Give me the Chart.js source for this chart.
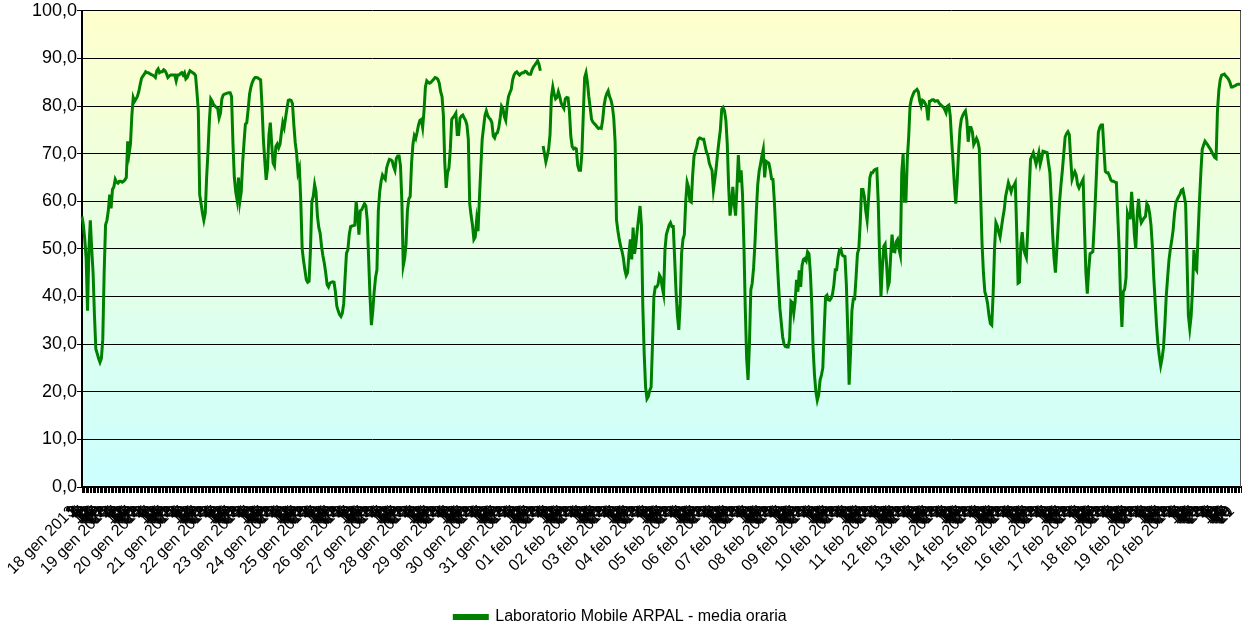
<!DOCTYPE html>
<html>
<head>
<meta charset="utf-8">
<script src="https://cdn.jsdelivr.net/npm/chart.js@4.4.0/dist/chart.umd.min.js"></script>
<style>
  html, body { margin: 0; padding: 0; background: #fff; }
</style>
</head>
<body>
<canvas id="chart" width="1243" height="627"></canvas>
<script>
// day labels shown on the x axis (first hour of each day)
const dayNames = [
  "18 gen 2013", "19 gen 2013", "20 gen 2013", "21 gen 2013", "22 gen 2013",
  "23 gen 2013", "24 gen 2013", "25 gen 2013", "26 gen 2013", "27 gen 2013",
  "28 gen 2013", "29 gen 2013", "30 gen 2013", "31 gen 2013",
  "01 feb 2013", "02 feb 2013", "03 feb 2013", "04 feb 2013", "05 feb 2013",
  "06 feb 2013", "07 feb 2013", "08 feb 2013", "09 feb 2013", "10 feb 2013",
  "11 feb 2013", "12 feb 2013", "13 feb 2013", "14 feb 2013", "15 feb 2013",
  "16 feb 2013", "17 feb 2013", "18 feb 2013", "19 feb 2013", "20 feb 2013"
];

// hourly means, one row per day (gennaio)
const hoursGen = [
  [56.8, 55, 52, 48, 37, 50, 56, 50, 45, 36, 29, 28, 27, 26.2, 27, 31, 45, 55, 56, 58, 61.4, 58.5, 62.5, 63],
  [64.6, 64, 63.8, 64.2, 64.2, 64, 64.2, 64.5, 65, 72.6, 70, 72, 78, 81.8, 81, 81.5, 82, 83, 84.5, 85.8, 86.3, 86.7, 87.2, 87],
  [87, 86.8, 86.6, 86.5, 86.3, 86, 87.4, 87.8, 87, 87.2, 87.2, 87.6, 87.4, 86.8, 86, 86.3, 86.5, 86.5, 86.5, 86.5, 85.3, 86.5, 86.5, 86.8],
  [87, 86.5, 87, 85.7, 86, 86.8, 87.4, 87.2, 87, 86.8, 86.4, 83, 79, 61.4, 59.5, 57.5, 56, 57.5, 65, 70.5, 77, 81.5, 81, 80.3],
  [80, 79.7, 79.5, 77.5, 78.5, 81.5, 82.3, 82.5, 82.6, 82.7, 82.8, 82.8, 82, 72.3, 65, 62, 60.3, 65, 60, 62, 68, 72.3, 76.2, 76.5],
  [79.3, 82.5, 84, 85, 85.6, 86, 86, 85.9, 85.7, 85.5, 80, 73, 68.5, 64.5, 67, 74, 76.5, 72, 68, 67.4, 71.5, 72, 71.2, 72],
  [74.4, 76.5, 75.5, 77.5, 79.5, 81.2, 81.3, 81.2, 80.5, 76, 72.3, 70, 66, 67, 60, 50, 47.5, 45.5, 43.5, 43, 43.2, 50, 60, 61],
  [63.5, 62, 57, 54.5, 53.3, 50.5, 48.5, 47, 45, 42.5, 42, 42.8, 43, 43.1, 43, 41, 38, 37, 36.2, 35.8, 36.5, 38.5, 44, 49.1],
  [49.8, 53, 54.7, 54.8, 54.9, 55, 60, 57, 53, 58, 58.2, 58.9, 59.5, 59, 56, 48, 40, 34, 37, 41, 44, 45.6, 58, 62],
  [64.2, 65.5, 65, 64.6, 67, 68, 68.8, 68.7, 68.5, 67.3, 66.5, 69, 69.5, 69.5, 67.5, 60, 46.5, 48, 51, 58, 60.5, 61, 68, 72],
  [73.8, 73.2, 74.5, 76, 77, 77.2, 75.5, 79, 84, 85.3, 85, 84.8, 85, 85.3, 85.6, 86, 85.9, 85.6, 84.8, 83, 82, 78, 68, 62.8],
  [66, 67, 71, 77.2, 77.6, 78, 78.5, 74, 74, 77.5, 77.9, 78.1, 77.5, 77, 76, 73, 59.5, 57, 55, 52, 52.5, 56, 53.7, 60.5],
  [67, 73, 75.5, 78, 79, 78, 77.5, 77.2, 76.5, 73.7, 73.3, 74.2, 74.4, 75.5, 77.5, 80, 79.5, 77.8, 77, 80, 82, 82.8, 83.5, 85.5],
  [86.5, 87, 87.2, 86.8, 86.5, 86.8, 87, 87, 87.3, 87.2, 86.8, 86.7, 86.7, 87.6, 88.2, 88.6, 89, 89.5, 88.8, 87.4, null, 71.6, 70, 68.3]
];

// hourly means, one row per day (febbraio)
const hoursFeb = [
  [69.5, 71, 74, 82, 84, 82.5, 81.5, 81.8, 83, 82, 80.7, 80, 79.5, 81.5, 81.8, 81.7, 79, 73.7, 71.5, 71, 71.2, 71, 67.5, 66.5],
  [66.5, 70, 78, 86, 87, 85, 82, 79.7, 77.2, 76.6, 76.3, 76, 75.6, 75.3, 75.4, 75.3, 77, 80, 81.7, 82.6, 83.2, 82, 81.3, 80],
  [77.5, 72.5, 56.1, 53.8, 52, 50.5, 49.5, 48, 45.6, 44.4, 45, 49, 52, 47.8, 54.5, 49, 51, 54, 56.5, 59, 55, 38, 28, 21],
  [18.5, 19, 20.3, 21, 30, 40, 42, 42, 42.5, 44.5, 44, 42, 40.5, 49.8, 53, 54, 55, 55.5, 54.7, 54.7, 48, 41, 36, 33],
  [38.5, 49, 52, 53, 60, 64, 63, 60, 59.8, 65.5, 69.5, 70.5, 71.6, 73, 73.3, 73.2, 73, 73, 71.6, 70.3, 69.7, 68, 67.2, 66.5],
  [62.4, 64.5, 67, 70, 72.6, 75, 79.3, 79.7, 79, 77, 72, 63, 57, 59.5, 63, 59.5, 57, 63, 69.7, 64, 66.5, 61.5, 51, 37.5],
  [27, 22.5, 30, 41.4, 42.8, 46, 51.2, 58, 63.5, 66.3, 67.8, 69.5, 70.9, 65, 68.4, 68.2, 68, 66.6, 64.7, 64.6, 60, 54, 48, 42.5],
  [37.5, 34.5, 31.5, 30, 29.5, 29.4, 29.4, 31, 39, 38.7, 36.5, 39, 43.5, 41, 45.5, 42, 46.5, 47.8, 48, 47.5, 49.4, 49, 45, 38.5],
  [29, 23.5, 20, 18.2, 19.3, 22.4, 23.5, 25, 33, 40, 40.3, 39.3, 39.2, 39.6, 40.5, 42.5, 45.6, 45.6, 48.2, 49.8, 50, 48.7, 48.5, 48.4],
  [42.5, 33, 21.5, 28, 37, 39.5, 39.5, 44, 49, 50, 55.4, 62.5, 62.5, 61, 58, 56, 60.3, 65, 66, 66, 66.5, 66.7, 66.8, 60],
  [48.4, 40, 46, 50.5, 51, 47, 42, 43, 48.5, 53, 49.5, 49.4, 51.5, 52, 50, 48.7, 66, 70, 60, 60, 68.8, 73.5, 80, 81.5],
  [82.3, 83, 83.2, 83.5, 83, 81, 80, 81.2, 81, 80.5, 79.7, 77, 81, 81.1, 81.3, 81.3, 81, 81.1, 81.1, 80.6, 80.3, 80, 79.8, 79.3],
  [78.6, 80, 80.2, 78, 73, 68.5, 63.5, 59.5, 64, 70, 75, 77.2, 78, 78.6, 79, 77, 72.5, 75.5, 75.5, 74.6, 71.9, 72.5, 73.2, 72.5],
  [71, 61, 51, 45, 41, 40, 38.5, 36, 34.3, 34, 40.5, 50, 55.5, 54.8, 53.5, 52.5, 54.5, 56.5, 58.2, 61, 62.4, 63.9, 63, 62],
  [63, 63.3, 63.9, 54, 42.8, 43, 51, 53.5, 50, 49, 48.2, 54, 62, 68.8, 69.5, 70.2, 69, 67.8, 69, 70.2, 67.8, 69, 70.5, 70.4],
  [70.3, 70.2, 68, 66, 60, 53, 48, 45, 50, 55, 60, 63.5, 66.5, 70, 73.5, 74.2, 74.6, 74, 69, 64.6, 65.5, 66.2, 65.5, 63.5],
  [62.8, 63.5, 64, 64.6, 54, 45, 40.6, 45.5, 49, 49.2, 49.4, 55, 61.5, 68.5, 74.5, 75.5, 76, 76, 71, 66.3, 66, 66, 65.3, 64.5],
  [64.2, 64.2, 64, 63.9, 57, 50, 40, 33.6, 41, 41.5, 44, 57.5, 56.5, 56.5, 62, 58, 53, 50, 57, 60.5, 57, 55.5, 56, 56.5],
  [56.8, 59.5, 59, 57.5, 55, 50.5, 44, 39, 34, 30, 27.5, 25.5, 27, 29.2, 34, 40, 44, 47.7, 50, 51.8, 54, 57.5, 59.7, 60.4],
  [61, 61.5, 62.3, 62.5, 61, 59.5, 48, 36, 33.3, 36, 41.5, 49.8, 46, 45.5, 53, 60, 66, 70.9, 71.8, 72.6, 72.2, 71.8, 71.3, 70.9],
  [70.3, 69.7, 69.2, 69, 79, 83.3, 85.5, 86.5, 86.6, 86.7, 86.3, 86, 85.6, 85, 84, 84, 84.2, 84.3, 84.5, 84.6, 84.6, 84.6]
];

const days = hoursGen.concat(hoursFeb);
const labels = [];
const values = [];
days.forEach((row, d) => {
  row.forEach((v, h) => {
    labels.push(h === 0 && dayNames[d] ? dayNames[d] : String(h));
    values.push(v);
  });
});

const FONT = "'Liberation Sans', Arial, sans-serif";

const plotBackground = {
  id: "plotBackground",
  beforeDraw(chart) {
    const { ctx, chartArea: a } = chart;
    const g = ctx.createLinearGradient(0, a.top, 0, a.bottom);
    g.addColorStop(0, "#FFFFCC");
    g.addColorStop(1, "#CCFFFF");
    ctx.save();
    ctx.fillStyle = g;
    ctx.fillRect(a.left, a.top, a.right - a.left, a.bottom - a.top);
    ctx.restore();
  },
  afterDraw(chart) {
    const { ctx, chartArea: a } = chart;
    ctx.save();
    ctx.strokeStyle = "#555";
    ctx.lineWidth = 1;
    ctx.beginPath();
    ctx.moveTo(a.right - 0.5, a.top);
    ctx.lineTo(a.right - 0.5, a.bottom);
    ctx.stroke();
    ctx.restore();
  }
};

new Chart(document.getElementById("chart"), {
  type: "line",
  data: {
    labels: labels,
    datasets: [
      {
        label: "Laboratorio Mobile ARPAL - media oraria",
        data: values,
        borderColor: "#008000",
        backgroundColor: "#008000",
        borderWidth: 3,
        pointRadius: 0,
        tension: 0,
        spanGaps: false
      }
    ]
  },
  options: {
    responsive: false,
    animation: false,
    layout: { padding: { top: 4, right: 2, left: 0, bottom: -8 } },
    scales: {
      x: {
        offset: false,
        grid: {
          drawOnChartArea: false,
          drawTicks: true,
          tickLength: 6,
          tickColor: "#000"
        },
        border: { color: "#000", width: 2 },
        ticks: {
          autoSkip: false,
          minRotation: 45,
          maxRotation: 45,
          padding: 9,
          labelOffset: -9,
          color: "#000",
          font: { family: FONT, size: 16 }
        },
        afterFit(scale) {
          scale.height = 118;
          scale.paddingRight = 0;
        }
      },
      y: {
        min: 0,
        max: 100,
        ticks: {
          stepSize: 10,
          padding: 0,
          color: "#000",
          font: { family: FONT, size: 18 },
          callback: (v) => v.toFixed(1).replace(".", ",")
        },
        grid: {
          color: "#000",
          lineWidth: 1,
          tickLength: 5,
          tickColor: "#000"
        },
        border: { color: "#000", width: 2 },
        afterFit(scale) {
          scale.width = 82;
        }
      }
    },
    plugins: {
      legend: {
        position: "bottom",
        labels: {
          boxWidth: 33,
          boxHeight: 3,
          padding: 4,
          color: "#000",
          font: { family: FONT, size: 16 }
        }
      },
      tooltip: { enabled: false }
    }
  },
  plugins: [plotBackground]
});
</script>
</body>
</html>
